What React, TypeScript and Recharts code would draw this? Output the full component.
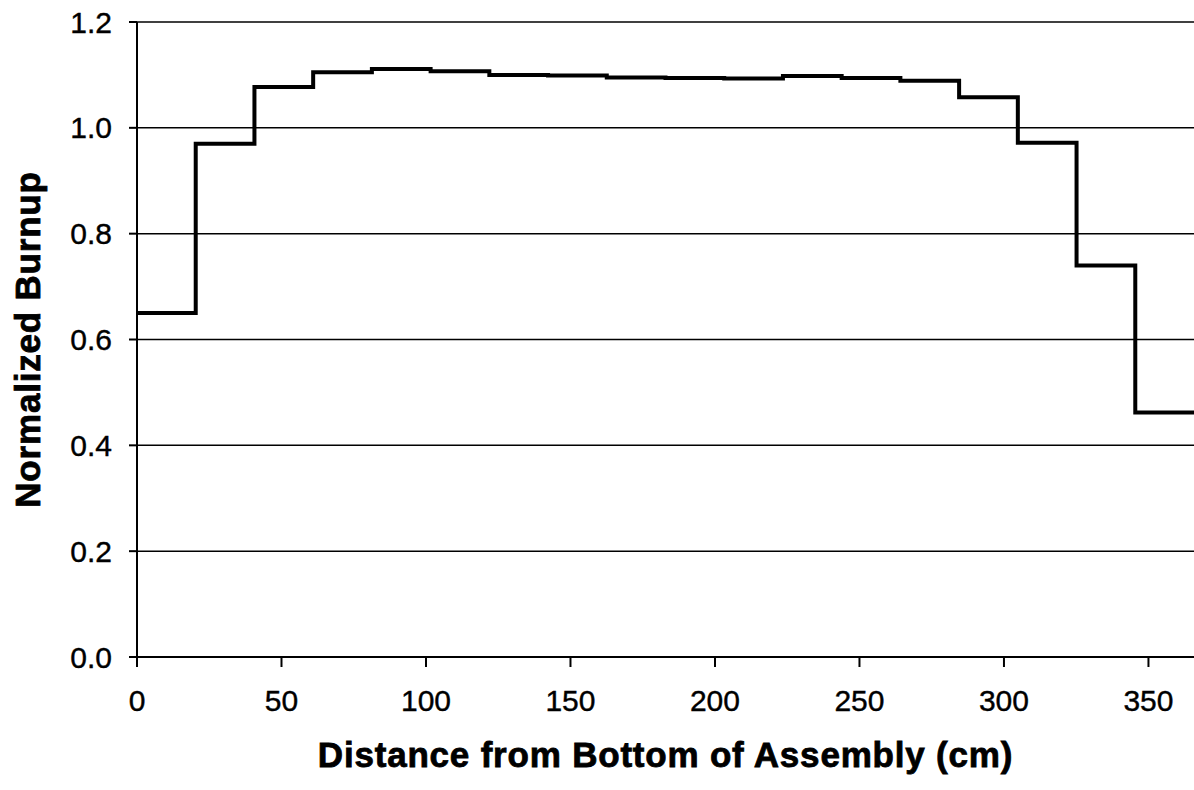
import { LineChart, Line, XAxis, YAxis, CartesianGrid } from 'recharts';

// Axial node boundaries (cm); last entry closes the final step
const nodeEdges = [
  0, 20.32, 40.64, 60.96, 81.28, 101.6, 121.92, 142.24, 162.56, 182.88,
  203.2, 223.52, 243.84, 264.16, 284.48, 304.8, 325.12, 345.44, 365.76,
];

// Normalized burnup per node (last value repeated for the closing edge)
const burnup = [
  0.65, 0.97, 1.077, 1.105, 1.111, 1.107, 1.1, 1.099, 1.095, 1.094,
  1.093, 1.098, 1.094, 1.089, 1.058, 0.972, 0.74, 0.462, 0.462,
];

const xTicks = [0, 50, 100, 150, 200, 250, 300, 350];
const yTicks = [0, 0.2, 0.4, 0.6, 0.8, 1.0, 1.2];

const data = nodeEdges.map((x, i) => ({ x, burnup: burnup[i] }));

// page has the default 8px body margin; drop it so the plot can run to the right edge
if (typeof document !== 'undefined') document.body.style.margin = '0';

const FONT = '"Liberation Sans", Arial, Helvetica, sans-serif';
const tickStyle = { fontSize: 30, fill: '#000', fontFamily: FONT, stroke: '#000', strokeWidth: 0.4 };
const titleStyle = {
  fontSize: 35,
  fontWeight: 'bold',
  fill: '#000',
  stroke: '#000',
  strokeWidth: 0.8,
  fontFamily: FONT,
  letterSpacing: 0.8,
};

export default function App() {
  return (
    <div style={{ width: 1194, height: 790, background: '#fff', fontFamily: FONT }}>
      <LineChart
        width={1194}
        height={790}
        data={data}
        margin={{ top: 22, right: 0, left: 0, bottom: 0 }}
      >
        <CartesianGrid stroke="#000" strokeWidth={1.5} vertical={false} />
        <XAxis
          dataKey="x"
          type="number"
          domain={[0, 365.76]}
          ticks={xTicks}
          allowDataOverflow
          height={133}
          tick={tickStyle}
          tickSize={10}
          tickMargin={23}
          axisLine={{ stroke: '#000', strokeWidth: 2 }}
          tickLine={{ stroke: '#000', strokeWidth: 2 }}
          label={{
            value: 'Distance from Bottom of Assembly (cm)',
            position: 'insideBottom',
            offset: 23,
            style: titleStyle,
          }}
        />
        <YAxis
          domain={[0, 1.2]}
          ticks={yTicks}
          width={137}
          tick={tickStyle}
          tickSize={8}
          tickMargin={17}
          tickFormatter={(v: number) => v.toFixed(1)}
          axisLine={{ stroke: '#000', strokeWidth: 2 }}
          tickLine={{ stroke: '#000', strokeWidth: 2 }}
          label={{
            value: 'Normalized Burnup',
            angle: -90,
            position: 'insideLeft',
            offset: 28,
            style: { ...titleStyle, textAnchor: 'middle' },
          }}
        />
        <Line
          type="stepAfter"
          dataKey="burnup"
          stroke="#000"
          strokeWidth={4}
          dot={false}
          isAnimationActive={false}
        />
      </LineChart>
    </div>
  );
}
